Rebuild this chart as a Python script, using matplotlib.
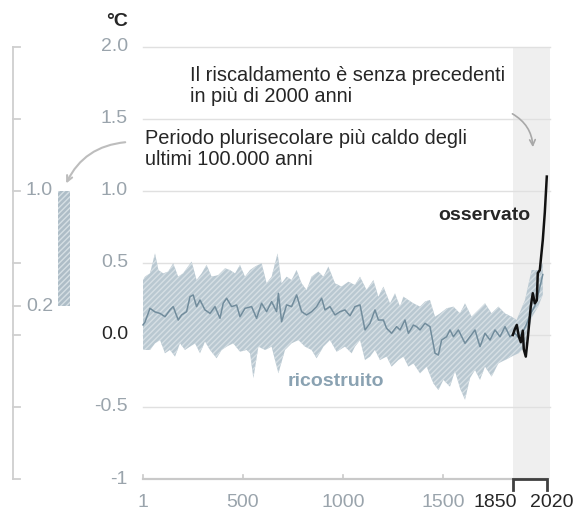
import numpy as np
import matplotlib
matplotlib.use("Agg")
import matplotlib.pyplot as plt

plt.rcParams['font.family'] = ['Liberation Sans', 'DejaVu Sans']

# reconstructed global surface temperature (°C, rel. 1850-1900)
mean_years = [1, 11, 36, 61, 86, 111, 136, 152, 177, 194, 219, 236, 252, 269, 286, 311,
              336, 361, 386, 402, 419, 444, 469, 486, 511, 544, 569, 594, 619, 644, 669,
              678, 694, 719, 744, 769, 794, 819, 844, 869, 894, 911, 936, 961, 986, 1011,
              1036, 1061, 1086, 1111, 1136, 1161, 1178, 1203, 1219, 1244, 1269, 1286, 1311,
              1328, 1353, 1369, 1386, 1411, 1436, 1461, 1478, 1494, 1519, 1536, 1553, 1578,
              1611, 1636, 1661, 1686, 1711, 1736, 1761, 1786, 1811, 1836, 1861, 1880, 1900,
              1920, 1940, 1960, 1980, 2000]
mean_vals = [0.07, 0.09, 0.185, 0.16, 0.15, 0.127, 0.174, 0.197, 0.104, 0.139, 0.162, 0.266,
             0.278, 0.197, 0.243, 0.174, 0.15, 0.197, 0.116, 0.22, 0.255, 0.197, 0.208, 0.127,
             0.185, 0.197, 0.116, 0.22, 0.162, 0.232, 0.162, 0.289, 0.092, 0.209, 0.197, 0.278,
             0.162, 0.139, 0.162, 0.197, 0.255, 0.174, 0.197, 0.139, 0.162, 0.174, 0.133,
             0.197, 0.209, 0.035, 0.081, 0.174, 0.104, 0.104, 0.046, 0.012, 0.058, 0.035,
             0.104, 0.012, 0.069, 0.058, 0.035, 0.081, 0.058, -0.127, -0.139, -0.035, -0.012,
             0.035, -0.012, 0.035, -0.058, -0.012, 0.035, -0.081, 0.012, -0.035, 0.035,
             -0.012, 0.058, -0.012, 0.012, -0.02, 0.02, 0.08, 0.15, 0.2, 0.3, 0.42]

upper_years = [1, 11, 36, 61, 78, 102, 127, 152, 177, 202, 244, 269, 294, 319, 344, 377, 411,
               436, 461, 486, 511, 536, 561, 594, 619, 644, 674, 694, 719, 744, 769, 794, 819,
               844, 878, 903, 928, 961, 994, 1028, 1061, 1086, 1119, 1153, 1178, 1203, 1236,
               1261, 1286, 1303, 1328, 1353, 1386, 1411, 1436, 1461, 1486, 1519, 1553, 1586,
               1611, 1644, 1678, 1711, 1744, 1778, 1811, 1844, 1869, 1911, 1944, 1978, 2000]
upper_vals = [0.38, 0.405, 0.428, 0.567, 0.451, 0.428, 0.44, 0.498, 0.405, 0.428, 0.51, 0.382,
              0.428, 0.486, 0.405, 0.416, 0.463, 0.451, 0.428, 0.486, 0.405, 0.451, 0.475,
              0.498, 0.359, 0.405, 0.567, 0.359, 0.405, 0.382, 0.451, 0.359, 0.312, 0.405,
              0.44, 0.405, 0.475, 0.359, 0.336, 0.37, 0.347, 0.405, 0.312, 0.382, 0.266,
              0.336, 0.22, 0.289, 0.197, 0.266, 0.243, 0.22, 0.197, 0.232, 0.243, 0.127, 0.15,
              0.185, 0.197, 0.15, 0.22, 0.127, 0.174, 0.22, 0.15, 0.197, 0.15, 0.127, 0.104,
              0.243, 0.451, 0.451, 0.5]

lower_years = [1, 11, 36, 61, 86, 111, 136, 161, 186, 211, 236, 261, 286, 311, 336, 369, 394,
               419, 452, 486, 519, 536, 553, 578, 611, 644, 678, 711, 744, 778, 811, 844, 869,
               903, 936, 969, 1011, 1044, 1061, 1086, 1111, 1136, 1161, 1186, 1219, 1244, 1278,
               1303, 1328, 1353, 1386, 1419, 1453, 1478, 1503, 1536, 1561, 1586, 1611, 1636,
               1661, 1686, 1711, 1744, 1778, 1811, 1844, 1878, 1911, 1944, 1978, 2000]
lower_vals = [-0.1, -0.104, -0.104, -0.058, -0.035, -0.127, -0.104, -0.15, -0.058, -0.104,
              -0.081, -0.058, -0.127, -0.046, -0.104, -0.162, -0.104, -0.081, -0.058, -0.116,
              -0.104, -0.127, -0.3, -0.081, -0.104, -0.081, -0.266, -0.104, -0.058, -0.035,
              -0.081, -0.104, -0.162, -0.081, -0.035, -0.116, -0.081, -0.127, -0.081, -0.035,
              -0.174, -0.15, -0.104, -0.174, -0.15, -0.22, -0.174, -0.15, -0.22, -0.197, -0.266,
              -0.22, -0.336, -0.382, -0.312, -0.359, -0.25, -0.37, -0.45, -0.3, -0.243, -0.312,
              -0.22, -0.289, -0.197, -0.174, -0.15, -0.127, -0.081, 0.12, 0.2, 0.28]

# observed
obs_years = [1850, 1860, 1870, 1880, 1890, 1900, 1905, 1915, 1925, 1940, 1950, 1960, 1970,
             1975, 1985, 2000, 2010, 2020]
obs_vals = [0.0, 0.04, 0.07, -0.01, -0.05, 0.03, -0.1, -0.15, -0.02, 0.2, 0.29, 0.22, 0.24,
            0.43, 0.45, 0.66, 0.85, 1.1]

# warmest multi-century period in the last 100,000 years
warm_low, warm_high = 0.2, 1.0

y_ticks = [2.0, 1.5, 1.0, 0.5, 0.0, -0.5, -1]
y_labels = ['2.0', '1.5', '1.0', '0.5', '0.0', '-0.5', '-1']
x_ticks = [1, 500, 1000, 1500, 1850, 2020]
x_labels = ['1', '500', '1000', '1500', '1850', '2020']

GREY = '#9aa4ac'
DARK = '#262626'
BAND = '#b9c8d1'
HATCH = '#d6dfe4'
FS = 14

fig = plt.figure(figsize=(5.8, 5.14), dpi=100)
ax = fig.add_axes([0, 0, 1, 1])
ax.set_xlim(-714, 2186)
ax.set_ylim(-1.243, 2.326)
ax.axis('off')

# recent period shading
ax.fill_between([1850, 2036], -1, 2.0, color='#efefef', lw=0, zorder=0)

# grid
for t in y_ticks[:-1]:
    ax.plot([1, 2036], [t, t], color='#e0e0e0', lw=1, zorder=1)
ax.plot([1, 2020], [-1, -1], color='#c9c9c9', lw=1.6, zorder=1)
for t in [1, 500, 1000, 1500]:
    ax.plot([t, t], [-1, -0.975], color='#c9c9c9', lw=1.2, zorder=1)
ax.plot([1850, 1850, 2020, 2020], [-1.075, -1, -1, -1.075], color='#404040', lw=2,
        solid_joinstyle='miter', zorder=3)

# reconstruction band + mean
ax.fill(np.r_[upper_years, lower_years[::-1]], np.r_[upper_vals, lower_vals[::-1]],
        facecolor=BAND, edgecolor=HATCH, hatch='//////', lw=0, zorder=2)
ax.plot(mean_years, mean_vals, color='#718c9c', lw=1.1, zorder=3)
ax.plot(obs_years, obs_vals, color='#111111', lw=1.8, zorder=4)

# tick labels
for t, lab in zip(y_ticks, y_labels):
    ax.text(-74, t, lab, ha='right', va='center', fontsize=FS,
            color=DARK if lab == '0.0' else GREY)
ax.text(-74, 2.174, '°C', ha='right', va='center', fontsize=FS, fontweight='bold', color=DARK)
for t, lab in zip(x_ticks, x_labels):
    if t == 1850:
        ax.text(1871, -1.16, lab, ha='right', va='center', fontsize=FS, color=DARK)
    elif t == 2020:
        ax.text(1936, -1.16, lab, ha='left', va='center', fontsize=FS, color=DARK)
    else:
        ax.text(t, -1.16, lab, ha='center', va='center', fontsize=FS, color=GREY)

# left panel
lx = -649
ax.plot([lx, lx], [-1, 2.0], color='#cfcfcf', lw=1.3)
for t in [2.0, 1.5, 1.0, 0.5, 0.2, 0.0, -0.5, -1]:
    ax.plot([lx, -614], [t, t], color='#cfcfcf', lw=1.3)
ax.text(-449, warm_high, '1.0', ha='right', va='center', fontsize=FS, color=GREY)
ax.text(-449, warm_low, '0.2', ha='right', va='center', fontsize=FS, color=GREY)
ax.fill_between([-424, -364], warm_low, warm_high, facecolor='#aebdc7', edgecolor=HATCH,
                hatch='//////', lw=0, zorder=2)

# annotations
ax.text(236, 1.729, 'Il riscaldamento è senza precedenti\nin più di 2000 anni', ha='left',
        va='center', fontsize=14.4, color=DARK, linespacing=1.1)
ax.text(11, 1.292, 'Periodo plurisecolare più caldo degli\nultimi 100.000 anni', ha='left',
        va='center', fontsize=14.4, color=DARK, linespacing=1.1)
ax.annotate('', xy=(-389, 1.035), xytext=(-74, 1.34),
            arrowprops=dict(arrowstyle='->', color='#bdbdbd', lw=1.5,
                            connectionstyle='arc3,rad=0.3'))
ax.annotate('', xy=(1951, 1.285), xytext=(1836, 1.545),
            arrowprops=dict(arrowstyle='->', color='#a8a8a8', lw=1.2,
                            connectionstyle='arc3,rad=-0.3'))
ax.text(1936, 0.833, 'osservato', ha='right', va='center', fontsize=FS, fontweight='bold',
        color=DARK)
ax.text(966, -0.326, 'ricostruito', ha='center', va='center', fontsize=FS, fontweight='bold',
        color='#8aa2b2')

fig.savefig('out.png', dpi=100)
